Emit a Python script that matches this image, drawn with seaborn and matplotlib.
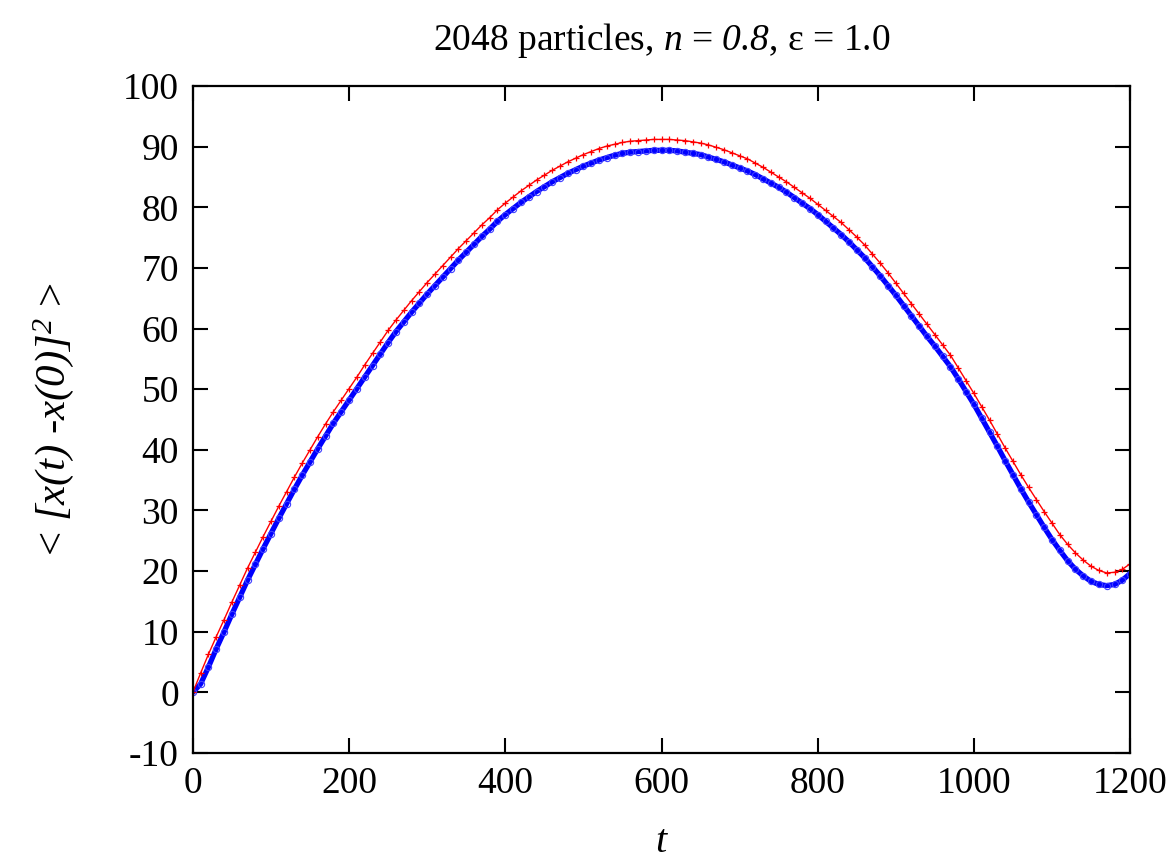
import numpy as np
import pandas as pd
import matplotlib
matplotlib.use("Agg")
import matplotlib.pyplot as plt
import seaborn as sns

# DATA (t step 10)
t = list(range(0, 1201, 10))

msd_red = [0.0, 3.2, 6.3, 9.2, 12.0, 14.9, 17.7, 20.5, 23.1, 25.7,
           28.2, 30.7, 33.1, 35.5, 37.8, 40.0, 42.2, 44.3, 46.3, 48.2,
           50.1, 52.0, 54.0, 55.9, 57.8, 59.7, 61.4, 63.0, 64.6, 66.1,
           67.6, 69.0, 70.4, 71.8, 73.2, 74.5, 75.8, 77.1, 78.3, 79.6,
           80.7, 81.7, 82.7, 83.6, 84.5, 85.3, 86.1, 86.8, 87.5, 88.1,
           88.7, 89.2, 89.7, 90.1, 90.4, 90.7, 90.9, 91.0, 91.1, 91.2,
           91.2, 91.2, 91.1, 91.0, 90.8, 90.6, 90.3, 89.9, 89.5, 89.0,
           88.5, 88.0, 87.3, 86.6, 85.8, 85.0, 84.2, 83.3, 82.4, 81.5,
           80.5, 79.5, 78.5, 77.5, 76.3, 75.1, 73.8, 72.3, 70.8, 69.2,
           67.5, 65.8, 64.1, 62.4, 60.7, 59.0, 57.3, 55.6, 53.5, 51.4,
           49.3, 47.1, 44.9, 42.6, 40.3, 38.1, 35.9, 33.8, 31.8, 29.8,
           27.9, 26.0, 24.4, 23.0, 21.8, 20.8, 20.1, 19.7, 19.8, 20.3,
           21.2]

msd_blue = [0.0, 1.4, 4.2, 7.2, 10.0, 12.9, 15.7, 18.5, 21.1, 23.7,
            26.2, 28.7, 31.1, 33.5, 35.8, 38.0, 40.2, 42.3, 44.4, 46.3,
            48.2, 50.1, 52.0, 53.9, 55.8, 57.7, 59.5, 61.1, 62.7, 64.2,
            65.7, 67.1, 68.5, 69.9, 71.3, 72.6, 73.9, 75.2, 76.4, 77.7,
            78.8, 79.8, 80.8, 81.7, 82.6, 83.4, 84.2, 84.9, 85.6, 86.2,
            86.8, 87.3, 87.8, 88.2, 88.6, 88.9, 89.1, 89.2, 89.3, 89.4,
            89.4, 89.4, 89.3, 89.1, 88.9, 88.7, 88.3, 87.9, 87.5, 87.0,
            86.5, 86.0, 85.4, 84.7, 84.0, 83.3, 82.5, 81.6, 80.7, 79.8,
            78.8, 77.7, 76.6, 75.5, 74.3, 73.0, 71.7, 70.2, 68.7, 67.1,
            65.5, 63.8, 62.1, 60.4, 58.7, 57.1, 55.4, 53.7, 51.7, 49.6,
            47.5, 45.2, 42.9, 40.6, 38.2, 35.9, 33.6, 31.4, 29.3, 27.2,
            25.2, 23.4, 21.7, 20.3, 19.2, 18.3, 17.8, 17.6, 17.8, 18.5,
            19.6]

x_ticks = [0, 200, 400, 600, 800, 1000, 1200]
y_ticks = [-10, 0, 10, 20, 30, 40, 50, 60, 70, 80, 90, 100]

df = pd.DataFrame({"t": t, "red": msd_red, "blue": msd_blue})

# STYLE
sns.set_style("ticks")
plt.rcParams["font.family"] = ["Liberation Serif", "DejaVu Serif"]
plt.rcParams["mathtext.fontset"] = "custom"
plt.rcParams["mathtext.rm"] = "Liberation Serif:italic"
plt.rcParams["mathtext.it"] = "Liberation Serif:italic"
plt.rcParams["mathtext.default"] = "it"
plt.rcParams["axes.unicode_minus"] = False
plt.rcParams["text.color"] = "black"
plt.rcParams["axes.labelcolor"] = "black"
plt.rcParams["xtick.color"] = "black"
plt.rcParams["ytick.color"] = "black"

fig = plt.figure(figsize=(11.76, 8.65), dpi=100)
ax = fig.add_axes([0.164, 0.1295, 0.797, 0.771])

# PLOT
sns.lineplot(data=df, x="t", y="blue", ax=ax, color="#0000ff", lw=3.8,
             marker="o", markersize=4.5, markerfacecolor="none",
             markeredgecolor="#4040ff", markeredgewidth=0.8)
sns.lineplot(data=df, x="t", y="red", ax=ax, color="#ff0000", lw=1.0,
             marker="+", markersize=4.5, markeredgecolor="#ff0000",
             markeredgewidth=0.9)

ax.set_xlim(0, 1200)
ax.set_ylim(-10, 100)
ax.set_xticks(x_ticks)
ax.set_yticks(y_ticks)
ax.tick_params(direction="in", length=11, width=1.5, labelsize=27,
               top=True, right=True, pad=10)
for s in ax.spines.values():
    s.set_linewidth(1.6)
    s.set_color("black")

ax.set_xlabel("$t$", fontsize=29, labelpad=16)
ax.set_ylabel(r"< $[x(t)$ -$x(0)]^2$ >", fontsize=31, labelpad=34)
ax.set_title(r"2048 particles, $n$ = $0.8$, ε = 1.0", fontsize=27, pad=26)

fig.savefig("out.png", dpi=100)
